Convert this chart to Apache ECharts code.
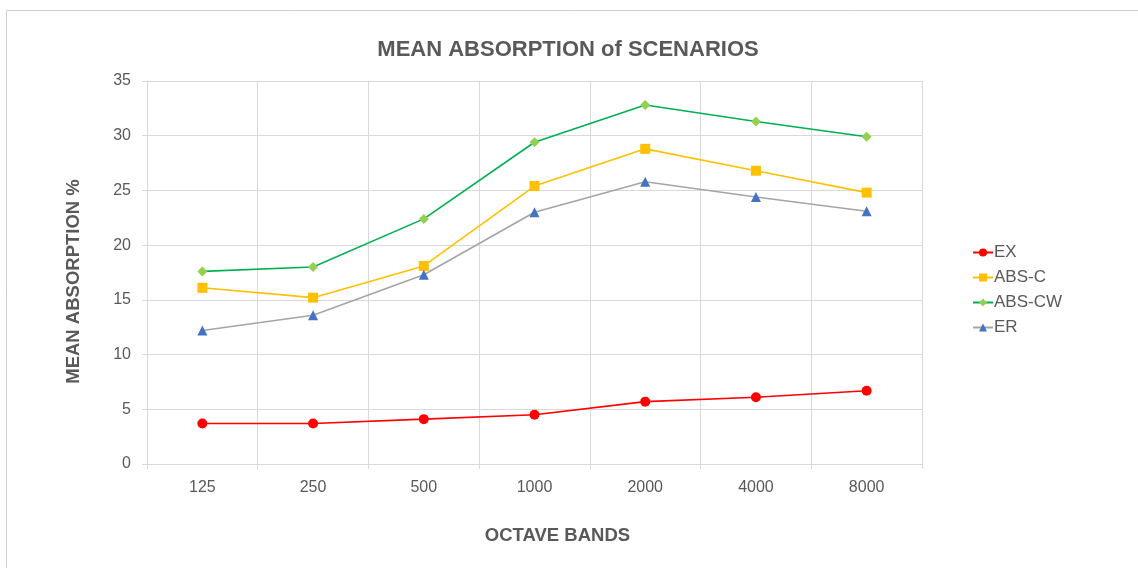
<!DOCTYPE html>
<html>
<head>
<meta charset="utf-8">
<script src="https://cdn.jsdelivr.net/npm/echarts@6/dist/echarts.min.js"></script>
<style>
html,body{margin:0;padding:0;background:#fff;}
#chart{width:1138px;height:568px;}
</style>
</head>
<body>
<div id="chart"></div>
<script>
const categories = ['125', '250', '500', '1000', '2000', '4000', '8000'];
const exValues = [3.7, 3.7, 4.1, 4.5, 5.7, 6.1, 6.7];
const absCValues = [16.1, 15.2, 18.1, 25.4, 28.8, 26.8, 24.8];
const absCWValues = [17.6, 18.0, 22.4, 29.4, 32.8, 31.3, 29.9];
const erValues = [12.2, 13.6, 17.3, 23.0, 25.8, 24.4, 23.1];
const yTicks = [0, 5, 10, 15, 20, 25, 30, 35];

const textColor = '#595959';
const gridColor = '#d9d9d9';
const font = '"Liberation Sans", Arial, sans-serif';

const chart = echarts.init(document.getElementById('chart'), null, {renderer: 'canvas'});
chart.setOption({
  animation: false,
  backgroundColor: '#ffffff',
  textStyle: {fontFamily: font},
  graphic: [{
    type: 'rect',
    shape: {x: 6.5, y: 10.5, width: 1300, height: 700},
    style: {fill: 'none', stroke: '#d0d0d0', lineWidth: 1},
    silent: true
  }],
  title: {
    text: 'MEAN ABSORPTION of SCENARIOS',
    left: 563, top: 34, textAlign: 'center',
    textStyle: {fontFamily: font, fontSize: 22, fontWeight: 'bold', color: textColor}
  },
  legend: {
    orient: 'vertical',
    left: 967, top: 239,
    itemWidth: 20, itemHeight: 10, itemGap: 8,
    textStyle: {fontFamily: font, fontSize: 17, color: textColor, padding: [0, 0, 0, -4]},
    data: ['EX', 'ABS-C', 'ABS-CW', 'ER']
  },
  grid: {left: 147, right: 216, top: 81, bottom: 104, containLabel: false},
  xAxis: {
    type: 'category',
    data: categories,
    boundaryGap: true,
    name: 'OCTAVE BANDS',
    nameLocation: 'middle',
    nameGap: 62,
    nameTextStyle: {fontFamily: font, fontSize: 18.5, fontWeight: 'bold', color: textColor, padding: [0, 0, 0, 46]},
    axisLine: {show: true, lineStyle: {color: gridColor, width: 1}},
    axisTick: {show: true, interval: 0, length: 5, lineStyle: {color: gridColor}},
    axisLabel: {margin: 16, fontFamily: font, fontSize: 16, color: textColor, interval: 0},
    splitLine: {show: true, interval: 0, lineStyle: {color: gridColor, width: 1}}
  },
  yAxis: {
    type: 'value',
    min: yTicks[0], max: yTicks[yTicks.length - 1], interval: 5,
    name: 'MEAN ABSORPTION %',
    nameLocation: 'middle',
    nameGap: 64,
    nameRotate: 90,
    nameTextStyle: {fontFamily: font, fontSize: 18.5, fontWeight: 'bold', color: textColor, padding: [0, 18, 0, 0]},
    axisLine: {show: true, lineStyle: {color: gridColor, width: 1}},
    axisTick: {show: true, length: 5, lineStyle: {color: gridColor}},
    axisLabel: {margin: 16, fontFamily: font, fontSize: 16, color: textColor},
    splitLine: {show: true, lineStyle: {color: gridColor, width: 1}}
  },
  series: [
    {
      name: 'EX', type: 'line', data: exValues,
      symbol: 'circle', symbolSize: 10,
      lineStyle: {color: '#ff0000', width: 1.6},
      itemStyle: {color: '#ff0000'}
    },
    {
      name: 'ABS-C', type: 'line', data: absCValues,
      symbol: 'rect', symbolSize: 10,
      lineStyle: {color: '#ffc000', width: 1.6},
      itemStyle: {color: '#ffc000'}
    },
    {
      name: 'ABS-CW', type: 'line', data: absCWValues,
      symbol: 'diamond', symbolSize: 10,
      lineStyle: {color: '#00b050', width: 1.6},
      itemStyle: {color: '#92d050'}
    },
    {
      name: 'ER', type: 'line', data: erValues,
      symbol: 'triangle', symbolSize: 10,
      lineStyle: {color: '#a5a5a5', width: 1.6},
      itemStyle: {color: '#4472c4'}
    }
  ]
});
</script>
</body>
</html>
